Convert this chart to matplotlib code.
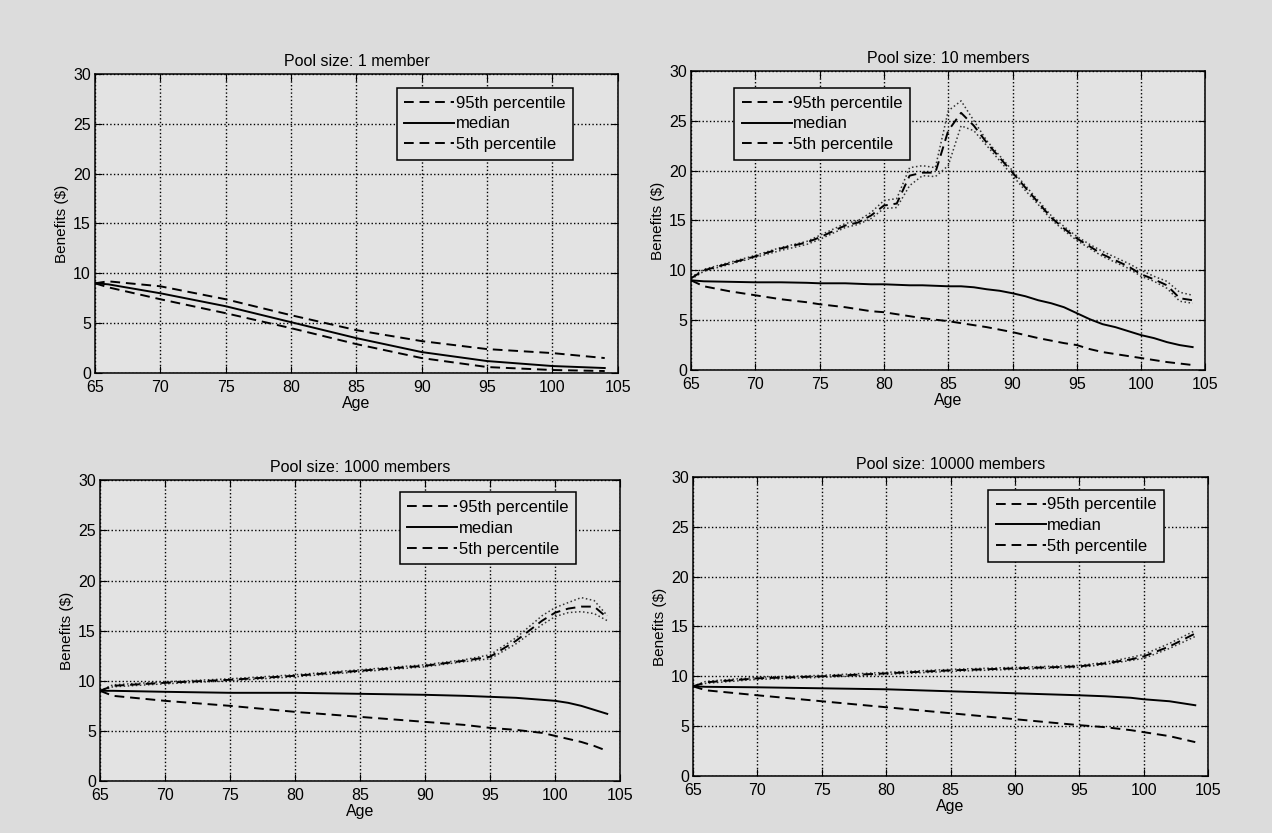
import numpy as np
import matplotlib
matplotlib.use('Agg')
import matplotlib.pyplot as plt

plt.rcParams['font.family'] = ['Liberation Sans', 'DejaVu Sans']

# pool size 1
age1 = [65, 66, 70, 75, 80, 85, 90, 95, 100, 104]
p95_1 = [9.0, 9.2, 8.7, 7.4, 5.8, 4.3, 3.2, 2.4, 2.0, 1.5]
med_1 = [9.0, 8.9, 8.0, 6.7, 5.1, 3.5, 2.1, 1.2, 0.7, 0.5]
p05_1 = [9.0, 8.6, 7.4, 6.0, 4.5, 2.9, 1.5, 0.6, 0.3, 0.2]

# pool size 10
age10 = [65, 66, 68, 70, 72, 74, 75, 77, 78, 79, 80, 81, 82, 83, 84, 85, 86,
         87, 88, 89, 90, 91, 92, 93, 94, 95, 96, 97, 98, 99, 100, 101, 102, 103, 104]
p95_10 = [9.2, 10.0, 10.7, 11.4, 12.2, 12.8, 13.3, 14.5, 14.8, 15.5, 16.5, 16.7,
          19.5, 19.8, 19.8, 24.0, 25.8, 24.5, 22.8, 21.3, 19.8, 18.3, 16.8, 15.3,
          14.2, 13.2, 12.4, 11.6, 11.0, 10.4, 9.6, 9.1, 8.5, 7.2, 7.0]
p95_10_hi = [9.3, 10.1, 10.8, 11.5, 12.3, 12.9, 13.5, 14.7, 15.0, 15.8, 17.0, 17.2,
             20.3, 20.5, 20.3, 26.0, 27.0, 25.0, 23.0, 21.5, 20.0, 18.5, 17.0, 15.5,
             14.4, 13.4, 12.6, 11.9, 11.3, 10.7, 10.0, 9.4, 8.9, 7.8, 7.5]
p95_10_lo = [9.1, 9.9, 10.6, 11.3, 12.0, 12.6, 13.1, 14.3, 14.6, 15.2, 16.2, 16.3,
             18.5, 19.5, 19.4, 20.5, 24.5, 24.0, 22.5, 21.0, 19.5, 18.0, 16.6, 15.1,
             14.0, 13.0, 12.2, 11.4, 10.8, 10.2, 9.4, 8.9, 8.2, 6.9, 6.7]
med_10 = [9.0, 8.9, 8.85, 8.8, 8.8, 8.75, 8.7, 8.7, 8.65, 8.6, 8.6, 8.55, 8.5,
          8.5, 8.45, 8.4, 8.4, 8.3, 8.1, 7.95, 7.7, 7.4, 7.0, 6.7, 6.3, 5.7, 5.1,
          4.6, 4.3, 3.9, 3.5, 3.2, 2.8, 2.5, 2.3]
p05_10 = [9.0, 8.4, 7.9, 7.5, 7.1, 6.8, 6.6, 6.3, 6.1, 5.9, 5.8, 5.6, 5.4, 5.2,
          5.05, 4.9, 4.7, 4.5, 4.3, 4.05, 3.8, 3.5, 3.2, 2.95, 2.7, 2.5, 2.1,
          1.8, 1.6, 1.4, 1.2, 1.0, 0.8, 0.65, 0.5]

# pool size 1000
age1000 = [65, 66, 70, 75, 80, 85, 90, 93, 95, 97, 99, 100, 101, 102, 103, 104]
p95_1000 = [9.0, 9.5, 9.8, 10.1, 10.5, 11.0, 11.5, 12.0, 12.4, 14.0, 16.0, 16.8,
            17.2, 17.4, 17.4, 16.3]
p95_1000_hi = [9.0, 9.6, 9.9, 10.2, 10.6, 11.1, 11.6, 12.1, 12.6, 14.3, 16.5,
               17.3, 17.8, 18.3, 18.0, 16.5]
p95_1000_lo = [9.0, 9.4, 9.7, 10.0, 10.4, 10.9, 11.4, 11.9, 12.2, 13.7, 15.6,
               16.4, 16.8, 16.9, 16.7, 16.0]
med_1000 = [9.0, 9.0, 8.9, 8.8, 8.8, 8.7, 8.6, 8.5, 8.4, 8.3, 8.1, 8.0, 7.8,
            7.5, 7.1, 6.7]
p05_1000 = [9.0, 8.5, 8.0, 7.5, 6.9, 6.4, 5.9, 5.6, 5.3, 5.1, 4.8, 4.5, 4.2,
            3.9, 3.5, 3.0]

# pool size 10000
age10000 = [65, 66, 70, 75, 80, 85, 90, 95, 97, 99, 100, 102, 104]
p95_10000 = [9.0, 9.4, 9.8, 10.0, 10.3, 10.6, 10.8, 11.0, 11.3, 11.7, 12.0, 13.0, 14.3]
p95_10000_hi = [9.0, 9.5, 9.9, 10.1, 10.4, 10.7, 10.9, 11.1, 11.4, 11.9, 12.2, 13.3, 14.6]
p95_10000_lo = [9.0, 9.3, 9.7, 9.9, 10.2, 10.5, 10.7, 10.9, 11.2, 11.6, 11.8, 12.8, 14.0]
med_10000 = [9.0, 8.95, 8.9, 8.8, 8.7, 8.5, 8.3, 8.1, 8.0, 7.85, 7.7, 7.5, 7.1]
p05_10000 = [9.0, 8.6, 8.1, 7.5, 6.9, 6.3, 5.7, 5.1, 4.9, 4.6, 4.4, 4.0, 3.4]

titles = ['Pool size: 1 member', 'Pool size: 10 members',
          'Pool size: 1000 members', 'Pool size: 10000 members']

panels = [
    (age1, p95_1, med_1, p05_1, None, None),
    (age10, p95_10, med_10, p05_10, p95_10_hi, p95_10_lo),
    (age1000, p95_1000, med_1000, p05_1000, p95_1000_hi, p95_1000_lo),
    (age10000, p95_10000, med_10000, p05_10000, p95_10000_hi, p95_10000_lo),
]

# axes rectangles (figure fractions)
rects = [
    [0.0747, 0.5522, 0.411, 0.359],
    [0.5432, 0.5558, 0.4045, 0.359],
    [0.0786, 0.0624, 0.409, 0.361],
    [0.5448, 0.0684, 0.405, 0.359],
]
legend_anchor = [(0.914, 0.953, 'upper right'), (0.084, 0.943, 'upper left'),
                 (0.915, 0.96, 'upper right'), (0.915, 0.957, 'upper right')]

fig = plt.figure(figsize=(12.72, 8.33), dpi=100, facecolor='#dcdcdc')

for i, (ages, hi, med, lo, hi_u, hi_l) in enumerate(panels):
    ax = fig.add_axes(rects[i])
    ax.set_facecolor('#e3e3e3')
    if hi_u is not None:
        ax.plot(ages, hi_u, ls=':', color='#333333', lw=1.1)
        ax.plot(ages, hi_l, ls=':', color='#333333', lw=1.1)
    ax.plot(ages, hi, ls='--', color='black', lw=1.4, dashes=(5, 3), label='95th percentile')
    ax.plot(ages, med, ls='-', color='black', lw=1.4, label='median')
    ax.plot(ages, lo, ls='--', color='black', lw=1.4, dashes=(5, 3), label='5th percentile')

    ax.set_xlim(65, 105)
    ax.set_ylim(0, 30)
    ax.set_xticks(np.arange(65, 106, 5))
    ax.set_yticks(np.arange(0, 31, 5))
    ax.grid(True, ls=':', color='black', lw=1.0)
    ax.tick_params(direction='in', top=True, right=True, labelsize=11.5, length=5)
    ax.tick_params(axis='x', pad=5)
    ax.tick_params(axis='y', pad=3)
    for s in ax.spines.values():
        s.set_linewidth(1.1)
    ax.set_title(titles[i], fontsize=11.5, pad=6)
    ax.set_xlabel('Age', fontsize=11.5, labelpad=1)
    ax.set_ylabel('Benefits (\\$)', fontsize=11, labelpad=3)

    x, y, loc = legend_anchor[i]
    handles, labels = ax.get_legend_handles_labels()
    leg = ax.legend(handles[-3:], labels[-3:], loc=loc, bbox_to_anchor=(x, y),
                    fontsize=12, frameon=True, fancybox=False, borderaxespad=0,
                    handlelength=3.0, handletextpad=0.1, labelspacing=0.35,
                    borderpad=0.45)
    leg.get_frame().set_edgecolor('black')
    leg.get_frame().set_facecolor('#e3e3e3')
    leg.get_frame().set_alpha(1)
    leg.get_frame().set_linewidth(1.1)

fig.savefig('out.png', dpi=100, facecolor=fig.get_facecolor())
